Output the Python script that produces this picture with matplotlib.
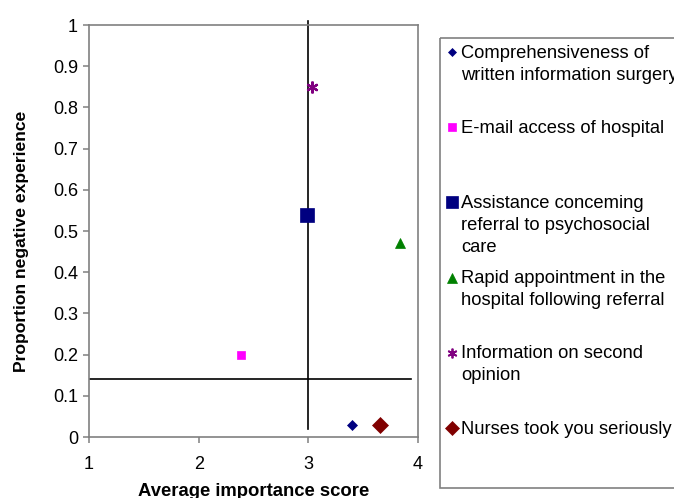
import matplotlib
matplotlib.use("Agg")
import matplotlib.pyplot as plt
from matplotlib.patches import Rectangle

plt.rcParams['font.family'] = ['Liberation Sans', 'DejaVu Sans']

# data
labels = [
    "Comprehensiveness of\nwritten information surgery",
    "E-mail access of hospital",
    "Assistance conceming\nreferral to psychosocial\ncare",
    "Rapid appointment in the\nhospital following referral",
    "Information on second\nopinion",
    "Nurses took you seriously",
]
importance = [3.40, 2.39, 2.99, 3.84, 3.03, 3.65]
negative = [0.03, 0.20, 0.54, 0.47, 0.85, 0.03]

# reference lines
cut_x = 3.0
cut_y = 0.14

colors = ["#000080", "#FF00FF", "#000080", "#008000", "#800080", "#800000"]
markers = ["D", "s", "s", "^", (6, 2, 0), "D"]
sizes = [5.3, 6, 10, 7.5, 8.5, 8.5]
legend_sizes = [4.5, 5.5, 8, 7, 7, 7]

fig = plt.figure(figsize=(6.74, 4.98), dpi=100)
ax = fig.add_axes([89 / 674, 1 - 437 / 498, 329 / 674, 412 / 498])

ax.plot([cut_x, cut_x], [0.02, 1.01], color="black", lw=1.2, clip_on=False, zorder=2)
ax.plot([1, 3.94], [cut_y, cut_y], color="black", lw=1.2, zorder=2)

for x, y, c, m, s in zip(importance, negative, colors, markers, sizes):
    mew = 1.6 if m == (6, 2, 0) else 0.5
    ax.plot(x, y, linestyle="none", marker=m, markersize=s, color=c,
            markeredgecolor=c, markeredgewidth=mew, zorder=3, clip_on=False)

ax.set_xlim(1, 4)
ax.set_ylim(0, 1)
ax.set_xticks([1, 2, 3, 4])
ax.set_xticklabels(["1", "2", "3", "4"])
yt = [i / 10 for i in range(11)]
ax.set_yticks(yt)
ax.set_yticklabels(["0"] + ["%.1f" % v for v in yt[1:-1]] + ["1"])
for sp in ax.spines.values():
    sp.set_color("#808080")
    sp.set_linewidth(1.2)
ax.tick_params(direction="out", length=4, width=1.1, color="#808080",
               labelsize=13, labelcolor="black")
ax.tick_params(axis="x", pad=10)
ax.tick_params(axis="y", pad=4)
ax.set_xlabel("Average importance score", fontsize=13.3, fontweight="bold", labelpad=7)
ax.set_ylabel("Proportion negative experience", fontsize=12.6, fontweight="bold")
ax.yaxis.set_label_coords(-0.183, 0.476)

# legend drawn in pixel coordinates
lax = fig.add_axes([0, 0, 1, 1], zorder=5)
lax.set_xlim(0, 674)
lax.set_ylim(498, 0)
lax.axis("off")
lax.add_patch(Rectangle((440, 38), 260, 450, fill=False, edgecolor="#808080", lw=1.2))
for i, (lab, c, m, s) in enumerate(zip(labels, colors, markers, legend_sizes)):
    yy = 52 + i * 75.2
    mew = 1.3 if m == (6, 2, 0) else 0.5
    lax.plot(452, yy, marker=m, markersize=s, color=c, markeredgecolor=c,
             markeredgewidth=mew, linestyle="none")
    for k, line in enumerate(lab.split("\n")):
        lax.text(461, yy + 1 + k * 22, line, fontsize=13.2, va="center", ha="left")

fig.savefig("out.png", dpi=100)
